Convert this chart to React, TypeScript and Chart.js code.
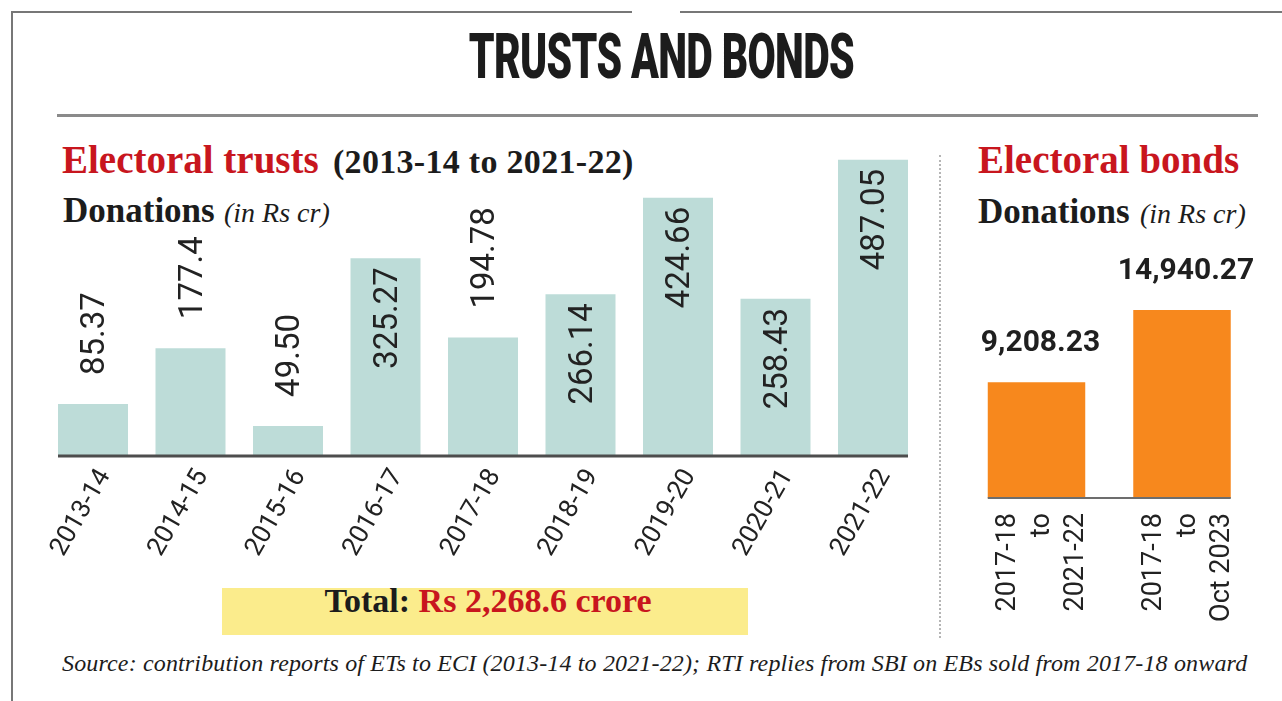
import React, { useEffect, useRef } from "react";
import { Chart, registerables } from "chart.js";

Chart.register(...registerables);

// ---------- data ----------
const trustYears = ["2013-14", "2014-15", "2015-16", "2016-17", "2017-18", "2018-19", "2019-20", "2020-21", "2021-22"];
const trustValues = [85.37, 177.4, 49.5, 325.27, 194.78, 266.14, 424.66, 258.43, 487.05];
const trustValueLabels = ["85.37", "177.4", "49.50", "325.27", "194.78", "266.14", "424.66", "258.43", "487.05"];

const bondPeriods = [
  ["2017-18", "to", "2021-22"],
  ["2017-18", "to", "Oct 2023"],
];
const bondValues = [9208.23, 14940.27];
const bondValueLabels = ["9,208.23", "14,940.27"];

const SERIF = "'Liberation Serif', 'Times New Roman', serif";
const RED = "#c8161e";
const INK = "#1c1c1c";

const trustLabelPlugin = {
  id: "trustLabels",
  afterDatasetsDraw(chart: any) {
    const ctx = chart.ctx;
    const meta = chart.getDatasetMeta(0);
    const yScale = chart.scales.y;
    const base = yScale.getPixelForValue(0);
    const first = meta.data[0];
    const last = meta.data[meta.data.length - 1];
    ctx.save();
    ctx.strokeStyle = "#4d4d4d";
    ctx.lineWidth = 3;
    ctx.beginPath();
    ctx.moveTo(first.x - first.width / 2, base);
    ctx.lineTo(last.x + last.width / 2, base);
    ctx.stroke();

    ctx.font = "400 33px Roboto";
    ctx.fillStyle = "#222";
    ctx.textBaseline = "middle";
    meta.data.forEach((bar: any, i: number) => {
      const inside = trustValues[i] >= 250;
      ctx.save();
      ctx.translate(bar.x + 3, inside ? bar.y + 9 : bar.y - 29);
      ctx.rotate(-Math.PI / 2);
      ctx.textAlign = inside ? "right" : "left";
      ctx.fillText(trustValueLabels[i], 0, 0);
      ctx.restore();
    });
    ctx.restore();
  },
};

const bondLabelPlugin = {
  id: "bondLabels",
  afterDatasetsDraw(chart: any) {
    const ctx = chart.ctx;
    const meta = chart.getDatasetMeta(0);
    const base = chart.scales.y.getPixelForValue(0);
    const first = meta.data[0];
    const last = meta.data[meta.data.length - 1];
    ctx.save();
    ctx.strokeStyle = "#6d6d6d";
    ctx.lineWidth = 2;
    ctx.beginPath();
    ctx.moveTo(first.x - first.width / 2, base);
    ctx.lineTo(last.x + last.width / 2, base);
    ctx.stroke();

    meta.data.forEach((bar: any, i: number) => {
      ctx.font = "700 30px Roboto";
      ctx.fillStyle = "#1f1f1f";
      ctx.textAlign = "center";
      ctx.textBaseline = "alphabetic";
      ctx.fillText(bondValueLabels[i], bar.x + 4, bar.y - 31);

      ctx.font = "400 27px Roboto";
      ctx.fillStyle = "#222";
      bondPeriods[i].forEach((line: string, j: number) => {
        ctx.save();
        ctx.translate(bar.x + 6 + (j - 1) * 34, base + 15);
        ctx.rotate(-Math.PI / 2);
        ctx.textAlign = "right";
        ctx.textBaseline = "middle";
        ctx.fillText(line, 0, 0);
        ctx.restore();
      });
    });
    ctx.restore();
  },
};

function TrustsChart() {
  const ref = useRef<HTMLCanvasElement | null>(null);
  useEffect(() => {
    if (!ref.current) return;
    const chart = new Chart(ref.current, {
      type: "bar",
      data: {
        labels: trustYears,
        datasets: [
          {
            data: trustValues,
            backgroundColor: "#bddcd8",
            borderWidth: 0,
            barPercentage: 0.718,
            categoryPercentage: 1,
          },
        ],
      },
      options: {
        responsive: false,
        animation: false,
        layout: { padding: { left: 44.25, right: 18.25, top: 32, bottom: 0 } },
        plugins: { legend: { display: false }, tooltip: { enabled: false }, title: { display: false } },
        scales: {
          x: {
            grid: { display: false, drawTicks: false },
            border: { display: false },
            ticks: {
              autoSkip: false,
              minRotation: 60,
              maxRotation: 60,
              padding: 8,
              labelOffset: 12,
              color: "#222",
              font: { family: "Roboto", size: 26 },
            },
            afterFit: (s: any) => {
              s.height = 124;
            },
          },
          y: { display: false, min: 0, max: 500 },
        },
      },
      plugins: [trustLabelPlugin],
    } as any);
    return () => chart.destroy();
  }, []);
  return (
    <canvas
      ref={ref}
      width={940}
      height={460}
      style={{ position: "absolute", left: 0, top: 120, width: 940, height: 460 }}
    />
  );
}

function BondsChart() {
  const ref = useRef<HTMLCanvasElement | null>(null);
  useEffect(() => {
    if (!ref.current) return;
    const chart = new Chart(ref.current, {
      type: "bar",
      data: {
        labels: bondPeriods.map((p) => p.join(" ")),
        datasets: [
          {
            data: bondValues,
            backgroundColor: "#f7881d",
            borderWidth: 0,
            barPercentage: 0.67,
            categoryPercentage: 1,
          },
        ],
      },
      options: {
        responsive: false,
        animation: false,
        layout: { padding: { left: 23.75, right: 27.25, top: 56.7, bottom: 142 } },
        plugins: { legend: { display: false }, tooltip: { enabled: false } },
        scales: {
          x: { display: false },
          y: { display: false, min: 0, max: 16000 },
        },
      },
      plugins: [bondLabelPlugin],
    } as any);
    return () => chart.destroy();
  }, []);
  return (
    <canvas
      ref={ref}
      width={342}
      height={400}
      style={{ position: "absolute", left: 940, top: 240, width: 342, height: 400 }}
    />
  );
}

const abs = (s: React.CSSProperties): React.CSSProperties => ({ position: "absolute", whiteSpace: "nowrap", ...s });

export default function App() {
  return (
    <div
      style={{
        position: "absolute",
        left: 0,
        top: 0,
        width: 1282,
        height: 701,
        background: "#fff",
        overflow: "hidden",
        color: INK,
      }}
    >
      {/* frame */}
      <div style={abs({ left: 12, top: 11, width: 620, height: 2, background: "#777" })} />
      <div style={abs({ left: 680, top: 11, width: 602, height: 2, background: "#777" })} />
      <div style={abs({ left: 11, top: 11, width: 2, height: 690, background: "#777" })} />

      {/* main title */}
      <div
        style={abs({
          left: 20,
          top: 25,
          width: 1282,
          textAlign: "center",
          fontFamily: "Roboto, sans-serif",
          fontWeight: 900,
          fontSize: 63,
          lineHeight: "63px",
        })}
      >
        <span style={{ display: "inline-block", transform: "scaleX(0.65)", letterSpacing: -1 }}>TRUSTS AND BONDS</span>
      </div>
      <div style={abs({ left: 57, top: 114, width: 1201, height: 3, background: "#8a8a8a" })} />

      {/* left headings */}
      <div style={abs({ left: 62, top: 140.3, fontFamily: SERIF, fontWeight: 700, fontSize: 39, lineHeight: "39px", color: RED })}>
        Electoral trusts
      </div>
      <div style={abs({ left: 333, top: 144.5, fontFamily: SERIF, fontWeight: 700, fontSize: 34, lineHeight: "34px", letterSpacing: 0.3 })}>
        (2013-14 to 2021-22)
      </div>
      <div style={abs({ left: 63, top: 192.7, fontFamily: SERIF, fontWeight: 700, fontSize: 35, lineHeight: "35px" })}>
        Donations
      </div>
      <div style={abs({ left: 224, top: 198.5, fontFamily: SERIF, fontStyle: "italic", fontSize: 28, lineHeight: "28px" })}>
        (in Rs cr)
      </div>

      {/* right headings */}
      <div style={abs({ left: 978, top: 140.3, fontFamily: SERIF, fontWeight: 700, fontSize: 39, lineHeight: "39px", color: RED })}>
        Electoral bonds
      </div>
      <div style={abs({ left: 978, top: 193.7, fontFamily: SERIF, fontWeight: 700, fontSize: 35, lineHeight: "35px" })}>
        Donations
      </div>
      <div style={abs({ left: 1140, top: 199.5, fontFamily: SERIF, fontStyle: "italic", fontSize: 28, lineHeight: "28px" })}>
        (in Rs cr)
      </div>

      {/* separator */}
      <div style={abs({ left: 939, top: 155, width: 0, height: 483, borderLeft: "2px dotted #b5b5b5" })} />

      {/* total box */}
      <div style={abs({ left: 222, top: 588, width: 526, height: 47, background: "#fbec8c" })} />

      <TrustsChart />
      <BondsChart />

      <div
        style={abs({
          left: 225,
          top: 583.5,
          width: 526,
          textAlign: "center",
          fontFamily: SERIF,
          fontWeight: 700,
          fontSize: 34,
          lineHeight: "34px",
        })}
      >
        Total: <span style={{ color: RED }}>Rs 2,268.6 crore</span>
      </div>

      {/* source */}
      <div
        style={abs({
          left: 62,
          top: 650.9,
          fontFamily: SERIF,
          fontStyle: "italic",
          fontSize: 24,
          lineHeight: "24px",
          letterSpacing: 0.15,
        })}
      >
        Source: contribution reports of ETs to ECI (2013-14 to 2021-22); RTI replies from SBI on EBs sold from 2017-18 onward
      </div>
    </div>
  );
}
